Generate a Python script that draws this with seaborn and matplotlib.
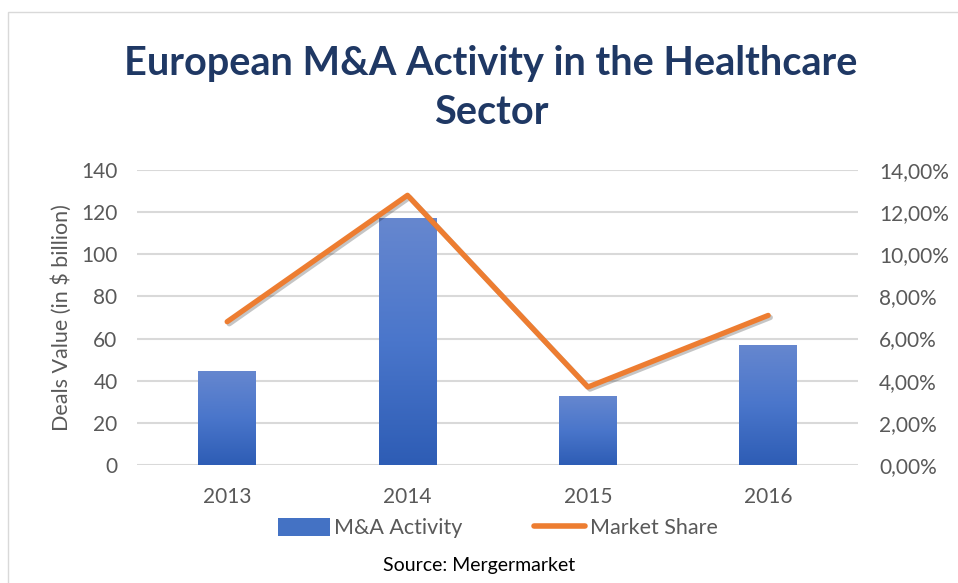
import numpy as np
import pandas as pd
import seaborn as sns
import matplotlib.pyplot as plt
import matplotlib.patches as patches
import matplotlib.patheffects as pe
from matplotlib.lines import Line2D
from matplotlib.ticker import FuncFormatter
from matplotlib.colors import LinearSegmentedColormap

years = ["2013", "2014", "2015", "2016"]
deal_values = [44.7, 117, 32.8, 57]
market_share = [0.068, 0.128, 0.037, 0.071]

sns.set_theme(style="white")
plt.rcParams['font.family'] = ['Lato', 'DejaVu Sans']

grey = "#595959"
blue = "#4472C4"
orange = "#ED7D31"
navy = "#1F3864"

df = pd.DataFrame({"year": years, "value": deal_values, "share": market_share})

fig = plt.figure(figsize=(9.58, 5.83), dpi=100)
ax = fig.add_axes([0.143, 0.2024, 0.753, 0.506])

sns.barplot(data=df, x="year", y="value", ax=ax, width=0.32, color=blue, zorder=2)

# vertical gradient fill for the bars
grad = LinearSegmentedColormap.from_list("bar_grad", ["#2E5DB5", "#4A76CB", "#6687CF"])
for bar in ax.patches:
    x0, y0 = bar.get_xy()
    w, h = bar.get_width(), bar.get_height()
    im = ax.imshow(np.linspace(0, 1, 100).reshape(-1, 1), cmap=grad, aspect="auto",
                   extent=(x0, x0 + w, y0, y0 + h), origin="lower", zorder=2)
    im.set_clip_path(bar)
    bar.set_facecolor("none")
    bar.set_edgecolor("none")

ax.set_xlim(-0.5, 3.5)
ax.set_ylim(0, 140)
ax.set_yticks(range(0, 141, 20))
ax.yaxis.grid(True, color="#D9D9D9", linewidth=1.5, zorder=0)
ax.set_axisbelow(True)
for s in ax.spines.values():
    s.set_visible(False)
ax.set_xlabel("")
ax.set_ylabel("Deals Value (in $ billion)", fontsize=15.5, color=grey, labelpad=7)
ax.tick_params(axis="y", length=0, labelsize=15, labelcolor=grey, pad=14)
ax.tick_params(axis="x", length=0, labelsize=15, labelcolor=grey, pad=16)

ax2 = ax.twinx()
sns.pointplot(data=df, x="year", y="share", ax=ax2, color=orange, markers="",
              linewidth=3.8, zorder=3)
for ln in ax2.lines:
    ln.set_solid_capstyle("round")
    ln.set_path_effects([pe.SimpleLineShadow(offset=(1.5, -1.5), alpha=0.25), pe.Normal()])
ax2.set_xlim(-0.5, 3.5)
ax2.set_ylim(0, 0.14)
ax2.set_yticks(np.arange(0, 0.141, 0.02))
ax2.yaxis.set_major_formatter(FuncFormatter(lambda v, p: f"{v * 100:.2f}%".replace(".", ",")))
ax2.set_ylabel("")
ax2.set_xlabel("")
ax2.tick_params(axis="y", length=0, labelsize=15, labelcolor=grey, pad=15)
for s in ax2.spines.values():
    s.set_visible(False)

fig.text(491 / 958, 1 - 88 / 583, "European M&A Activity in the Healthcare\nSector", ha="center", va="center",
         fontsize=28.5, fontweight="bold", color=navy, linespacing=1.38)

handles = [patches.Patch(facecolor=blue, edgecolor="none", label="M&A Activity"),
           Line2D([0], [0], color=orange, linewidth=4, solid_capstyle="round", label="Market Share")]
fig.legend(handles=handles, loc="center", bbox_to_anchor=(498 / 958, 1 - 528 / 583), ncol=2,
           frameon=False, fontsize=15.5, labelcolor=grey, handlelength=2.4, handleheight=0.9,
           handletextpad=0.2, columnspacing=3.3)

fig.text(479 / 958, 1 - 565 / 583, "Source: Mergermarket", ha="center", va="center", fontsize=14, color="black")

fig.patches.append(patches.Rectangle((8 / 958, -0.01), 0.995, 1 - 12 / 583 + 0.01, transform=fig.transFigure,
                                     fill=False, edgecolor="#D9D9D9", linewidth=1))

fig.savefig("out.png", dpi=100)
